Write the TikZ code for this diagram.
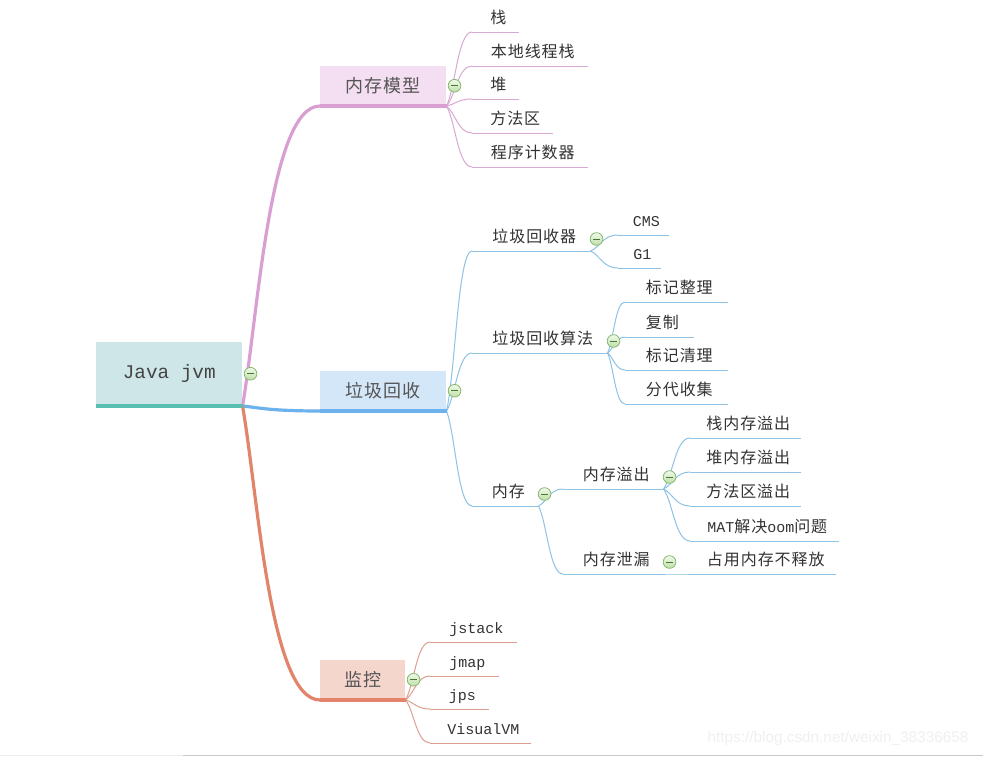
\documentclass[tikz,border=0pt]{standalone}
\usepackage{fontspec}
\usetikzlibrary{calc}
\newfontfamily\cjk{Noto Sans CJK SC}[LetterSpace=6]
\newfontfamily\mono{Liberation Mono}
\newfontfamily\wmfont{Liberation Sans}
\newcommand\lat[1]{{\mono\fontsize{11.25}{13}\selectfont #1}}
\definecolor{rootfill}{HTML}{CFE6E9}
\definecolor{rootline}{HTML}{5ABFB3}
\definecolor{pinkfill}{HTML}{F4DEF1}
\definecolor{pinkline}{HTML}{DA9FD2}
\definecolor{pinkthin}{HTML}{D8AAD3}
\definecolor{bluefill}{HTML}{D4E7F9}
\definecolor{blueline}{HTML}{6CB2EC}
\definecolor{bluethin}{HTML}{8EC3E6}
\definecolor{orfill}{HTML}{F5D6CD}
\definecolor{orline}{HTML}{E1846A}
\definecolor{orthin}{HTML}{DDA090}
\definecolor{txtroot}{HTML}{444444}
\definecolor{txtmain}{HTML}{555555}
\definecolor{txtleaf}{HTML}{333333}
\definecolor{iconline}{HTML}{86B870}
\definecolor{icontop}{HTML}{F0F9EA}
\definecolor{iconbot}{HTML}{BFDFA8}
\definecolor{icondark}{HTML}{4A7438}
\begin{document}
\begin{tikzpicture}[x=0.75pt,y=-0.75pt,
  every node/.style={inner sep=0pt},
  rootbox/.style={anchor=south west, minimum width=109.5pt, minimum height=48pt, fill=rootfill, text=txtroot, font=\mono\fontsize{14.5}{16}\selectfont},
  mainbox/.style={anchor=south west, minimum width=94.5pt, minimum height=30pt, text=txtmain, font=\cjk\fontsize{13.5}{16}\selectfont},
  leaf/.style={anchor=south west, inner xsep=0pt, inner ysep=3.5pt, text height=10.5pt, text depth=2.5pt, text=txtleaf, font=\cjk\fontsize{12}{14}\selectfont, execute at begin node={\hspace*{4.5pt}}},
  wd/.style={minimum width=#1*0.75pt},
  icon/.style={circle, minimum size=9.5pt, inner sep=0pt, draw=iconline, line width=0.6pt, top color=icontop, bottom color=iconbot,
    path picture={\draw[line width=0.75pt, icondark] ([xshift=2.2pt]path picture bounding box.west) -- ([xshift=-2.2pt]path picture bounding box.east);}},
  brconn/.style={to path={let \p1=(\tikztostart), \p2=(\tikztotarget) in .. controls ({\x1+0.2*(\x2-\x1)},{\y1+0.3*(\y2-\y1)}) and ({\x1+0.35*(\x2-\x1)},\y2) .. (\tikztotarget)}},
  lfconn/.style={to path={let \p1=(\tikztostart), \p2=(\tikztotarget) in .. controls ({\x1+0.35*(\x2-\x1)},{\y1+0.25*(\y2-\y1)}) and ({\x1+0.45*(\x2-\x1)},\y2) .. (\tikztotarget)}},
  thin/.style={line width=0.75pt},
  thick/.style={line width=2.4pt},
  uline/.style={line width=3pt}
]
\fill[white] (0,0) rectangle (983,757);
\useasboundingbox (0,0) rectangle (983,757);

% main nodes
\node[rootbox] (root) at (96,406) {Java jvm};
\node[mainbox, fill=pinkfill] (mm) at (320,106) {内存模型};
\node[mainbox, fill=bluefill] (gc) at (320,411) {垃圾回收};
\node[mainbox, fill=orfill, wd=85] (jk) at (320,700) {监控};

% memory model leaves
\node[leaf, wd=46] (zhan) at (472,32) {栈};
\node[leaf, wd=115] (bdxc) at (472,66) {本地线程栈};
\node[leaf, wd=46] (dui) at (472,99) {堆};
\node[leaf, wd=80] (ffq) at (472,133) {方法区};
\node[leaf, wd=115] (cxjsq) at (472,167) {程序计数器};

% gc
\node[leaf, wd=118] (hsq) at (472,251) {垃圾回收器};
\node[leaf, wd=135] (sf) at (472,353) {垃圾回收算法};
\node[leaf, wd=66] (nc) at (472,506) {内存};
\node[leaf, wd=50] (cms) at (618,235) {\lat{CMS}};
\node[leaf, wd=42] (gone) at (618,268) {\lat{G1}};
\node[leaf, wd=102] (bjzl) at (625,302) {标记整理};
\node[leaf, wd=68] (fz) at (625,337) {复制};
\node[leaf, wd=102] (bjql) at (625,370) {标记清理};
\node[leaf, wd=102] (fdsj) at (625,404) {分代收集};
\node[leaf, wd=100] (ncyc) at (563,489) {内存溢出};
\node[leaf, wd=100] (ncxl) at (563,574) {内存泄漏};
\node[leaf, wd=110] (zncyc) at (690,438) {栈内存溢出};
\node[leaf, wd=110] (dncyc) at (690,472) {堆内存溢出};
\node[leaf, wd=110] (ffqyc) at (690,506) {方法区溢出};
\node[leaf, wd=148] (mat) at (690,541) {\lat{MAT}解决\lat{oom}问题};
\node[leaf, wd=145] (zy) at (690,574) {占用内存不释放};

% monitoring
\node[leaf, wd=86] (jstack) at (430,642) {\lat{jstack}};
\node[leaf, wd=68] (jmap) at (430,676) {\lat{jmap}};
\node[leaf, wd=58] (jps) at (430,709) {\lat{jps}};
\node[leaf, wd=100] (vvm) at (430,743) {\lat{VisualVM}};

% main branches
\draw[thick, pinkline] (root.south east) to[brconn] (mm.south west);
\draw[thick, blueline] (root.south east) to[brconn] (gc.south west);
\draw[thick, orline] (root.south east) to[brconn] (jk.south west);

% leaf connectors
\foreach \c in {zhan,bdxc,dui,ffq,cxjsq}
  \draw[thin, pinkthin] (mm.south east) to[lfconn] (\c.south west);
\foreach \c in {hsq,sf,nc}
  \draw[thin, bluethin] (gc.south east) to[lfconn] (\c.south west);
\foreach \c in {cms,gone}
  \draw[thin, bluethin] (hsq.south east) to[lfconn] (\c.south west);
\foreach \c in {bjzl,fz,bjql,fdsj}
  \draw[thin, bluethin] (sf.south east) to[lfconn] (\c.south west);
\foreach \c in {ncyc,ncxl}
  \draw[thin, bluethin] (nc.south east) to[lfconn] (\c.south west);
\foreach \c in {zncyc,dncyc,ffqyc,mat}
  \draw[thin, bluethin] (ncyc.south east) to[lfconn] (\c.south west);
\draw[thin, bluethin] (ncxl.south east) to[lfconn] (zy.south west);
\foreach \c in {jstack,jmap,jps,vvm}
  \draw[thin, orthin] (jk.south east) to[lfconn] (\c.south west);

% underlines
\draw[uline, rootline] (root.south west) -- (root.south east);
\draw[uline, pinkline] (mm.south west) -- (mm.south east);
\draw[uline, blueline] (gc.south west) -- (gc.south east);
\draw[uline, orline] (jk.south west) -- (jk.south east);
\foreach \c in {zhan,bdxc,dui,ffq,cxjsq}
  \draw[thin, pinkthin] (\c.south west) -- (\c.south east);
\foreach \c in {hsq,sf,nc,cms,gone,bjzl,fz,bjql,fdsj,ncyc,ncxl,zncyc,dncyc,ffqyc,mat,zy}
  \draw[thin, bluethin] (\c.south west) -- (\c.south east);
\foreach \c in {jstack,jmap,jps,vvm}
  \draw[thin, orthin] (\c.south west) -- (\c.south east);

% collapse icons
\node[icon] (iroot) at ($(root.east)+(8,0)$) {};
\node[icon] (imm) at ($(mm.east)+(8,0)$) {};
\node[icon] (igc) at ($(gc.east)+(8,0)$) {};
\node[icon] (ijk) at ($(jk.east)+(8,0)$) {};
\foreach \c in {hsq,sf,nc,ncyc,ncxl}
  \node[icon] (i\c) at ($(\c.south east)+(6,-12)$) {};

% watermark and bottom rule
\node[text=black!6, font=\wmfont\fontsize{11.5}{13}\selectfont] (wm) at (838,739) {https://blog.csdn.net/weixin\_38336658};
\draw[line width=1.2pt, black!7] (0,755.5) -- (183,755.5);
\draw[line width=1pt, black!22] (183,755.5) -- (983,755.5);
\end{tikzpicture}
\end{document}
